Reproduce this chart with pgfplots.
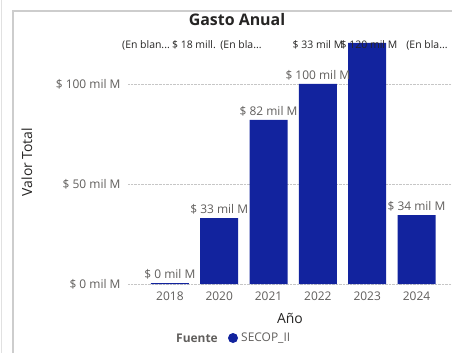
\documentclass[border=0pt]{standalone}
\usepackage{pgfplots}
\pgfplotsset{compat=1.18}
\usepackage{fontspec}
\setmainfont{Open Sans}
\definecolor{barblue}{RGB}{18,35,158}
\definecolor{ticgray}{RGB}{96,94,92}
\definecolor{darktxt}{RGB}{37,36,35}
\definecolor{framegray}{RGB}{205,205,205}
\newcommand{\sm}{\fontsize{12}{14}\selectfont}
\begin{document}
\begin{tikzpicture}[x=1bp,y=1bp]
\path[use as bounding box] (0,0) rectangle (452,353);
\draw[framegray!60, line width=1bp] (1.5,0) -- (1.5,353);
\draw[framegray, line width=2bp] (13,0) -- (13,342) -- (452,342);
\node[font=\bfseries\fontsize{16}{18}\selectfont, text=darktxt] at (237,333) {Gasto Anual};
\begin{axis}[
  at={(128bp,69bp)}, anchor=south west,
  scale only axis, width=324bp, height=250bp,
  xmin=-0.85, xmax=5.72, ymin=0, ymax=125,
  axis line style={draw=none},
  tick style={draw=none},
  xtick={0,1,2,3,4,5},
  xticklabels={2018,2020,2021,2022,2023,2024},
  ytick={0,50,100},
  yticklabels={\$ 0 mil M,\$ 50 mil M,\$ 100 mil M},
  ymajorgrids,
  grid style={densely dotted, gray!45, line width=0.7bp},
  ticklabel style={font=\sm, text=ticgray},
  yticklabel style={xshift=-4bp},
  xticklabel style={yshift=-4bp},
  xlabel={Año}, xlabel style={font=\fontsize{14}{16}\selectfont, text=darktxt, yshift=-6bp},
  clip=false,
  point meta=explicit symbolic,
  nodes near coords,
  every node near coord/.append style={font=\sm, text=ticgray, yshift=0bp},
]
\addplot[ybar, bar width=38bp, fill=barblue, draw=none] coordinates {
 (0,0.5) [\$ 0 mil M]
 (1,33) [\$ 33 mil M]
 (2,82) [\$ 82 mil M]
 (3,100) [\$ 100 mil M]
 (4,120.5) []
 (5,34.5) [\$ 34 mil M]
};
\end{axis}
\node[rotate=90, font=\fontsize{14}{16}\selectfont, text=darktxt] at (27,191) {Valor Total};
\begin{scope}[every node/.style={font=\fontsize{10.5}{12}\selectfont, text=darktxt, inner sep=0}]
\node at (146,308) {(En blan...};
\node at (194,308) {\$ 18 mill.};
\node at (241,308) {(En bla...};
\node at (318,308) {\$ 33 mil M};
\node at (369,308) {\$ 120 mil M};
\node at (427,308) {(En bla...};
\end{scope}
\node[font=\bfseries\sm, text=ticgray, anchor=east, inner sep=0] at (218,15) {Fuente};
\fill[barblue] (233,15) circle (5);
\node[font=\sm, text=ticgray, anchor=west, inner sep=0] at (241,15) {SECOP\_II};
\end{tikzpicture}
\end{document}
